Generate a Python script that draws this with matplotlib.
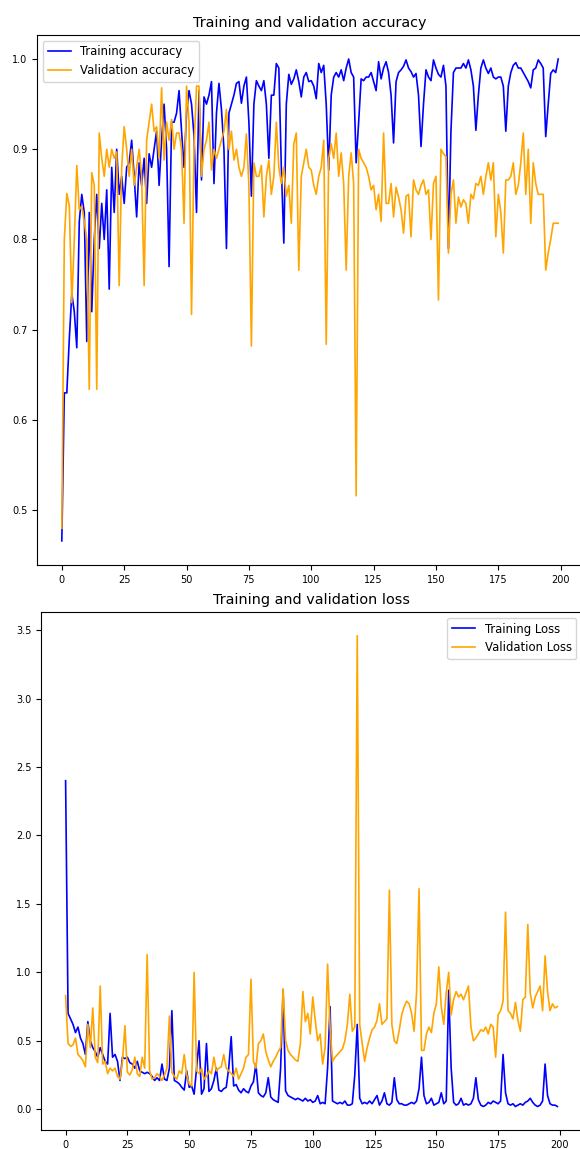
import matplotlib
matplotlib.use("Agg")
import matplotlib.pyplot as plt

# values, one per epoch (0..199)
train_acc = [
    0.466, 0.63, 0.63, 0.69, 0.74, 0.72, 0.68, 0.82, 0.85, 0.83,
    0.687, 0.83, 0.72, 0.80, 0.85, 0.79, 0.84, 0.80, 0.855, 0.745,
    0.88, 0.83, 0.90, 0.85, 0.87, 0.84, 0.88, 0.885, 0.91, 0.87,
    0.825, 0.885, 0.86, 0.89, 0.84, 0.895, 0.88, 0.90, 0.92, 0.86,
    0.91, 0.95, 0.90, 0.77, 0.93, 0.93, 0.94, 0.965, 0.92, 0.88,
    0.94, 0.965, 0.95, 0.915, 0.83, 0.965, 0.866, 0.958, 0.95, 0.96,
    0.975, 0.862, 0.94, 0.973, 0.944, 0.90, 0.79, 0.94, 0.95, 0.96,
    0.973, 0.975, 0.951, 0.97, 0.98, 0.93, 0.848, 0.95, 0.976, 0.97,
    0.965, 0.976, 0.95, 0.89, 0.96, 0.96, 0.995, 0.99, 0.88, 0.796,
    0.95, 0.983, 0.972, 0.978, 0.988, 0.975, 0.958, 0.98, 0.985, 0.975,
    0.976, 0.97, 0.956, 0.995, 0.985, 0.993, 0.95, 0.877, 0.96, 0.98,
    0.985, 0.98, 0.988, 0.976, 0.99, 1.0, 0.985, 0.98, 0.885, 0.93,
    0.978, 0.976, 0.98, 0.98, 0.985, 0.975, 0.965, 0.997, 0.978, 0.99,
    0.997, 0.985, 0.96, 0.907, 0.975, 0.985, 0.988, 0.992, 0.999, 0.99,
    0.986, 0.98, 0.984, 0.96, 0.903, 0.95, 0.988, 0.98, 0.976, 0.999,
    0.99, 0.983, 0.98, 0.993, 0.97, 0.79, 0.92, 0.985, 0.99, 0.99,
    0.99, 0.995, 0.99, 0.999, 0.988, 0.97, 0.921, 0.96, 0.99, 0.999,
    0.99, 0.984, 0.99, 0.98, 0.978, 0.98, 0.98, 0.97, 0.92, 0.97,
    0.985, 0.993, 0.996, 0.99, 0.99, 0.985, 0.98, 0.975, 0.968, 0.988,
    0.99, 0.999, 0.995, 0.99, 0.914, 0.95, 0.984, 0.988, 0.985, 1.0,
]

val_acc = [
    0.48, 0.80, 0.851, 0.837, 0.73, 0.80, 0.882, 0.833, 0.837, 0.82,
    0.80, 0.634, 0.874, 0.86, 0.634, 0.918, 0.89, 0.87, 0.90, 0.88,
    0.90, 0.89, 0.897, 0.749, 0.88, 0.925, 0.90, 0.87, 0.90, 0.86,
    0.88, 0.90, 0.87, 0.749, 0.91, 0.93, 0.95, 0.92, 0.925, 0.89,
    0.968, 0.888, 0.93, 0.91, 0.933, 0.90, 0.918, 0.918, 0.90, 0.818,
    0.97, 0.93, 0.717, 0.90, 0.97, 0.97, 0.87, 0.90, 0.91, 0.93,
    0.877, 0.90, 0.89, 0.90, 0.91, 0.92, 0.944, 0.90, 0.92, 0.888,
    0.90, 0.88, 0.87, 0.88, 0.917, 0.86, 0.682, 0.885, 0.87, 0.87,
    0.882, 0.825, 0.87, 0.888, 0.85, 0.87, 0.93, 0.88, 0.862, 0.88,
    0.848, 0.86, 0.818, 0.906, 0.918, 0.766, 0.87, 0.885, 0.90, 0.88,
    0.877, 0.86, 0.85, 0.87, 0.88, 0.91, 0.684, 0.89, 0.906, 0.89,
    0.918, 0.87, 0.896, 0.862, 0.766, 0.87, 0.896, 0.862, 0.516, 0.90,
    0.89, 0.885, 0.88, 0.87, 0.855, 0.86, 0.833, 0.85, 0.82, 0.918,
    0.84, 0.84, 0.862, 0.825, 0.858, 0.847, 0.833, 0.807, 0.848, 0.85,
    0.803, 0.866, 0.855, 0.85, 0.86, 0.866, 0.85, 0.855, 0.80, 0.862,
    0.87, 0.733, 0.90, 0.895, 0.892, 0.785, 0.85, 0.866, 0.818, 0.847,
    0.836, 0.844, 0.84, 0.818, 0.85, 0.845, 0.862, 0.86, 0.87, 0.85,
    0.87, 0.885, 0.866, 0.885, 0.803, 0.85, 0.83, 0.785, 0.866, 0.866,
    0.87, 0.885, 0.85, 0.86, 0.885, 0.918, 0.85, 0.90, 0.818, 0.885,
    0.862, 0.85, 0.85, 0.85, 0.766, 0.785, 0.80, 0.818, 0.818, 0.818,
]

train_loss = [
    2.40, 0.70, 0.66, 0.62, 0.56, 0.60, 0.52, 0.48, 0.40, 0.64,
    0.50, 0.45, 0.42, 0.38, 0.45, 0.40, 0.35, 0.33, 0.70, 0.38,
    0.40, 0.35, 0.21, 0.38, 0.37, 0.38, 0.34, 0.33, 0.30, 0.35,
    0.28, 0.27, 0.26, 0.27, 0.26, 0.24, 0.21, 0.23, 0.21, 0.33,
    0.22, 0.21, 0.30, 0.72, 0.21, 0.20, 0.185, 0.16, 0.14, 0.28,
    0.16, 0.17, 0.11, 0.30, 0.50, 0.11, 0.15, 0.48, 0.13, 0.15,
    0.21, 0.30, 0.14, 0.13, 0.15, 0.16, 0.30, 0.53, 0.17, 0.18,
    0.14, 0.12, 0.15, 0.13, 0.12, 0.17, 0.20, 0.33, 0.12, 0.10,
    0.09, 0.12, 0.23, 0.09, 0.07, 0.06, 0.05, 0.30, 0.87, 0.135,
    0.10, 0.09, 0.08, 0.07, 0.08, 0.07, 0.06, 0.08, 0.06, 0.07,
    0.05, 0.06, 0.10, 0.04, 0.05, 0.04, 0.30, 0.75, 0.06, 0.05,
    0.04, 0.05, 0.04, 0.06, 0.03, 0.03, 0.04, 0.25, 0.62, 0.08,
    0.04, 0.05, 0.04, 0.06, 0.04, 0.07, 0.10, 0.03, 0.06, 0.12,
    0.04, 0.03, 0.05, 0.23, 0.07, 0.04, 0.04, 0.03, 0.03, 0.04,
    0.05, 0.04, 0.06, 0.15, 0.38, 0.10, 0.04, 0.05, 0.08, 0.03,
    0.04, 0.05, 0.12, 0.04, 0.06, 0.87, 0.30, 0.05, 0.03, 0.04,
    0.08, 0.03, 0.04, 0.03, 0.04, 0.08, 0.23, 0.07, 0.03, 0.02,
    0.03, 0.05, 0.04, 0.06, 0.05, 0.04, 0.06, 0.40, 0.12, 0.04,
    0.03, 0.04, 0.02, 0.03, 0.04, 0.03, 0.05, 0.06, 0.08, 0.05,
    0.03, 0.02, 0.03, 0.06, 0.33, 0.10, 0.04, 0.03, 0.03, 0.02,
]

val_loss = [
    0.83, 0.48, 0.46, 0.47, 0.52, 0.40, 0.38, 0.355, 0.31, 0.62,
    0.45, 0.74, 0.38, 0.34, 0.90, 0.33, 0.35, 0.26, 0.30, 0.28,
    0.30, 0.24, 0.22, 0.35, 0.61, 0.27, 0.25, 0.29, 0.38, 0.26,
    0.24, 0.38, 0.30, 1.13, 0.28, 0.22, 0.23, 0.26, 0.24, 0.21,
    0.25, 0.30, 0.68, 0.27, 0.24, 0.22, 0.28, 0.26, 0.40, 0.25,
    0.185, 0.17, 1.00, 0.28, 0.26, 0.30, 0.22, 0.24, 0.28, 0.26,
    0.38, 0.28, 0.30, 0.31, 0.40, 0.30, 0.28, 0.26, 0.24, 0.30,
    0.22, 0.26, 0.30, 0.38, 0.40, 0.95, 0.35, 0.30, 0.48, 0.50,
    0.55, 0.42, 0.36, 0.31, 0.35, 0.38, 0.42, 0.45, 0.88, 0.50,
    0.43, 0.40, 0.38, 0.36, 0.35, 0.48, 0.86, 0.64, 0.70, 0.55,
    0.82, 0.65, 0.50, 0.55, 0.33, 0.45, 1.06, 0.60, 0.35, 0.38,
    0.40, 0.42, 0.44, 0.50, 0.62, 0.84, 0.57, 0.60, 3.46, 0.62,
    0.48, 0.35, 0.45, 0.52, 0.58, 0.60, 0.65, 0.77, 0.62, 0.64,
    0.66, 1.60, 0.62, 0.50, 0.48, 0.58, 0.69, 0.75, 0.79, 0.77,
    0.70, 0.57, 0.85, 1.61, 0.43, 0.43, 0.55, 0.60, 0.56, 0.70,
    0.77, 1.04, 0.75, 0.62, 0.85, 1.00, 0.69, 0.80, 0.86, 0.82,
    0.84, 0.80, 0.85, 0.90, 0.60, 0.50, 0.52, 0.55, 0.58, 0.57,
    0.60, 0.55, 0.62, 0.60, 0.38, 0.69, 0.72, 0.79, 1.44, 0.72,
    0.70, 0.66, 0.78, 0.65, 0.57, 0.80, 0.82, 1.35, 0.85, 0.74,
    0.82, 0.86, 0.90, 0.72, 1.12, 0.86, 0.72, 0.77, 0.74, 0.75,
]

epochs = range(len(train_acc))
ticks = [0, 25, 50, 75, 100, 125, 150, 175, 200]

fig = plt.figure(figsize=(5.8, 11.49), dpi=100)

# accuracy
ax1 = fig.add_axes([0.0638, 0.5083, 0.9414, 0.4613])
ax1.plot(epochs, train_acc, color='blue', lw=1.2, label='Training accuracy')
ax1.plot(epochs, val_acc, color='orange', lw=1.2, label='Validation accuracy')
ax1.set_title('Training and validation accuracy', fontsize=10.4)
ax1.set_xticks(ticks)
ax1.tick_params(labelsize=7)
ax1.legend(loc='upper left', fontsize=8.4)

# loss
ax2 = fig.add_axes([0.0707, 0.0165, 0.9328, 0.4508])
ax2.plot(epochs, train_loss, color='blue', lw=1.2, label='Training Loss')
ax2.plot(epochs, val_loss, color='orange', lw=1.2, label='Validation Loss')
ax2.set_title('Training and validation loss', fontsize=10.4)
ax2.set_xticks(ticks)
ax2.tick_params(labelsize=7)
ax2.legend(loc='upper right', fontsize=8.4)

fig.savefig('out.png', dpi=100)
